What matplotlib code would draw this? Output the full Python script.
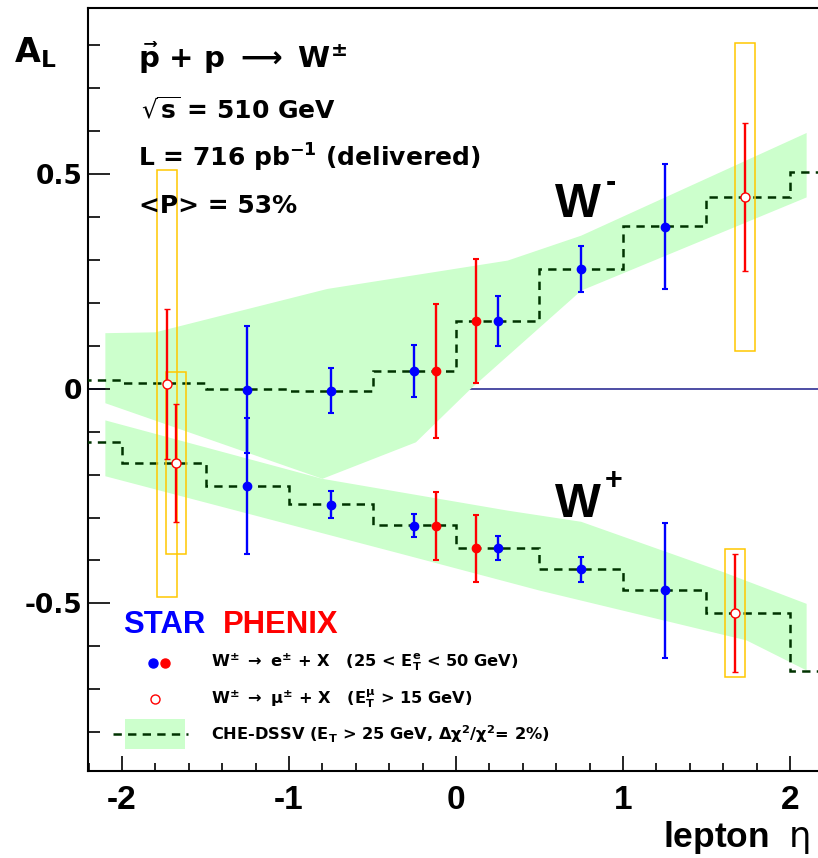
import numpy as np
import matplotlib
matplotlib.use('Agg')
import matplotlib.pyplot as plt
import matplotlib.transforms as mtransforms
from matplotlib.patches import Rectangle
from matplotlib.lines import Line2D
from matplotlib.ticker import MultipleLocator

plt.rcParams['font.family'] = ['DejaVu Sans']
plt.rcParams['mathtext.fontset'] = 'dejavusans'
plt.rcParams['mathtext.default'] = 'bf'
plt.rcParams['axes.unicode_minus'] = False
plt.rcParams['lines.scale_dashes'] = False

# ---------------- data ----------------
bin_edges = [-2.5, -2.0, -1.5, -1.0, -0.5, 0.0, 0.5, 1.0, 1.5, 2.0, 2.5]
theory_wm = [0.021, 0.012, -0.001, -0.005, 0.042, 0.157, 0.279, 0.378, 0.447, 0.503]
theory_wp = [-0.125, -0.173, -0.226, -0.268, -0.317, -0.371, -0.419, -0.468, -0.522, -0.657]

band_wm_up_eta = [-2.1, -1.8, -0.77, 0.31, 0.75, 2.1]
band_wm_up = [0.129, 0.131, 0.232, 0.298, 0.356, 0.595]
band_wm_lo_eta = [-2.1, -0.8, -0.24, 0.09, 0.75, 2.1]
band_wm_lo = [-0.034, -0.21, -0.125, 0.0, 0.228, 0.445]
band_wp_up_eta = [-2.1, -0.8, 0.31, 0.75, 1.6, 2.1]
band_wp_up = [-0.074, -0.21, -0.284, -0.31, -0.427, -0.501]
band_wp_lo_eta = [-2.1, -0.335, 0.5, 1.74, 2.1]
band_wp_lo = [-0.204, -0.384, -0.47, -0.586, -0.656]

star_eta = [-1.25, -0.75, -0.25, 0.25, 0.75, 1.25]
star_wm = [-0.003, -0.005, 0.041, 0.157, 0.278, 0.377]
star_wm_err = [0.148, 0.052, 0.060, 0.059, 0.053, 0.146]
star_wp = [-0.226, -0.270, -0.319, -0.371, -0.421, -0.469]
star_wp_err = [0.158, 0.031, 0.027, 0.027, 0.030, 0.157]

phe_e_eta = [-0.12, 0.12]
phe_e_wm = [0.041, 0.157]
phe_e_wm_err = [0.155, 0.145]
phe_e_wp = [-0.319, -0.372]
phe_e_wp_err = [0.079, 0.077]

phe_mu_wm_eta = [-1.73, 1.73]
phe_mu_wm = [0.011, 0.446]
phe_mu_wm_err = [0.175, 0.173]
phe_mu_wm_sys = [0.497, 0.358]
phe_mu_wp_eta = [-1.675, 1.67]
phe_mu_wp = [-0.173, -0.522]
phe_mu_wp_err = [0.138, 0.137]
phe_mu_wp_sys = [0.211, 0.149]

xtick_vals = [-2, -1, 0, 1, 2]
xtick_labels = ['-2', '-1', '0', '1', '2']
ytick_vals = [-0.5, 0, 0.5]
ytick_labels = ['-0.5', '0', '0.5']

# ---------------- figure ----------------
W, H = 818, 858
fig = plt.figure(figsize=(W / 100, H / 100), dpi=100)
ax = fig.add_axes([88 / W, (H - 771) / H, 730 / W, (771 - 7.5) / H])


def fx(px):
    return px / W


def fy(py):
    return 1 - py / H


BAND = '#ccffcc'
DASH = '#003300'
BLUE = '#0000ff'
RED = '#ff0000'
GOLD = '#ffc800'
dash_style = (0, (6, 4.5))

ax.axhline(0, color='#1c1c8c', lw=1.1, zorder=0.5)

for ue, u, le, l in [(band_wm_up_eta, band_wm_up, band_wm_lo_eta, band_wm_lo),
                     (band_wp_up_eta, band_wp_up, band_wp_lo_eta, band_wp_lo)]:
    ax.fill(np.r_[ue, le[::-1]], np.r_[u, l[::-1]], color=BAND, lw=0, zorder=1)

for th in (theory_wm, theory_wp):
    ax.stairs(th, bin_edges, baseline=None, color=DASH, lw=1.8,
              ls=dash_style, zorder=3)

# systematic boxes for muons
for etas, vals, sys in [(phe_mu_wm_eta, phe_mu_wm, phe_mu_wm_sys),
                        (phe_mu_wp_eta, phe_mu_wp, phe_mu_wp_sys)]:
    for e, v, s in zip(etas, vals, sys):
        ax.add_patch(Rectangle((e - 0.06, v - s), 0.12, 2 * s, fill=False,
                               ec=GOLD, lw=1.1, zorder=4))

eb = dict(fmt='o', ms=6, elinewidth=1.7, capsize=2, capthick=1.5, zorder=6)
ax.errorbar(star_eta, star_wm, yerr=star_wm_err, color=BLUE, **eb)
ax.errorbar(star_eta, star_wp, yerr=star_wp_err, color=BLUE, **eb)
ax.errorbar(phe_e_eta, phe_e_wm, yerr=phe_e_wm_err, color=RED, **eb)
ax.errorbar(phe_e_eta, phe_e_wp, yerr=phe_e_wp_err, color=RED, **eb)
ebm = dict(fmt='o', ms=6.5, mfc='white', mec=RED, mew=1.0, ecolor=RED,
           elinewidth=1.7, capsize=2, capthick=1.5, zorder=6)
ax.errorbar(phe_mu_wm_eta, phe_mu_wm, yerr=phe_mu_wm_err, **ebm)
ax.errorbar(phe_mu_wp_eta, phe_mu_wp, yerr=phe_mu_wp_err, **ebm)

ax.set_xlim(-2.204, 2.168)
ax.set_ylim(-0.89, 0.887)

ax.set_xticks(xtick_vals)
ax.set_xticklabels(xtick_labels, fontfamily='Liberation Sans',
                   fontweight='bold', fontsize=24)
ax.set_yticks(ytick_vals)
ax.set_yticklabels(ytick_labels, fontweight='bold', fontsize=19)
shift = mtransforms.ScaledTranslation(0, 6 / 100, fig.dpi_scale_trans)
for lab in ax.get_yticklabels():
    lab.set_transform(lab.get_transform() + shift)
ax.xaxis.set_minor_locator(MultipleLocator(0.2))
ax.yaxis.set_minor_locator(MultipleLocator(0.1))
ax.tick_params(axis='x', which='major', direction='in', length=11, width=1.2,
               pad=10, top=False)
ax.tick_params(axis='x', which='minor', direction='in', length=5.5, width=1.2,
               top=False)
ax.tick_params(axis='y', which='major', direction='in', length=16, width=1.2,
               pad=4, right=False)
ax.tick_params(axis='y', which='minor', direction='in', length=8.5, width=1.2,
               right=False)
ax.spines['right'].set_visible(False)
for s in ('left', 'top', 'bottom'):
    ax.spines[s].set_linewidth(1.5)

# axis titles
fig.text(fx(14), fy(62), r'$A_{L}$', fontsize=24, va='baseline')
fig.text(fx(810), fy(847), r'lepton  $\mathrm{\eta}$', ha='right', va='baseline',
         fontfamily='Liberation Sans', fontweight='bold', fontsize=25.5)

# header text
fig.text(fx(138), fy(68), r'$\vec{p}$ + p $\longrightarrow$ W$^{\pm}$', fontsize=21,
         fontweight='bold', va='baseline')
fig.text(fx(141), fy(118), r'$\sqrt{s}$ = 510 GeV', fontsize=18,
         fontweight='bold', va='baseline')
fig.text(fx(138.5), fy(166.7), r'L = 716 pb$^{-1}$ (delivered)', fontsize=18,
         fontweight='bold', va='baseline')
fig.text(fx(139), fy(213.3), '<P> = 53%', fontsize=18, fontweight='bold',
         va='baseline')

bigW = dict(fontfamily='Liberation Sans', fontweight='bold', fontsize=35,
            va='baseline')
supW = dict(fontfamily='Liberation Sans', fontweight='bold', fontsize=22,
            va='center')
fig.text(fx(555), fy(216.7), 'W', **bigW)
fig.text(fx(606), fy(183), '-', **supW)
fig.text(fx(555), fy(516.7), 'W', **bigW)
fig.text(fx(605), fy(481), '+', **supW)

# legend
fig.text(fx(122.7), fy(633.3), 'STAR', color=BLUE, fontfamily='Liberation Sans',
         fontweight='bold', fontsize=22.3, va='baseline')
fig.text(fx(223.3), fy(633.3), 'PHENIX', color=RED, fontfamily='Liberation Sans',
         fontweight='bold', fontsize=22.3, va='baseline')

fig.add_artist(Line2D([fx(153.3)], [fy(662.7)], marker='o', ms=6.5, color=BLUE,
                      transform=fig.transFigure))
fig.add_artist(Line2D([fx(165)], [fy(662.7)], marker='o', ms=6.5, color=RED,
                      transform=fig.transFigure))
fig.add_artist(Line2D([fx(155)], [fy(699.3)], marker='o', ms=6.5, mfc='white',
                      mec=RED, mew=1.0, transform=fig.transFigure))
fig.add_artist(Rectangle((fx(125), fy(749.3)), 60 / W, 30 / H, color=BAND,
                         lw=0, transform=fig.transFigure))
fig.add_artist(Line2D([fx(113), fx(188)], [fy(734.3), fy(734.3)], color=DASH,
                      lw=1.8, ls=dash_style, transform=fig.transFigure))

lg = dict(fontsize=11.7, fontweight='bold', va='baseline')
fig.text(fx(210.7), fy(666.7),
         r'W$^{\pm}$ $\rightarrow$ e$^{\pm}$ + X   (25 < $E_{T}^{e}$ < 50 GeV)', **lg)
fig.text(fx(210.7), fy(703.3),
         r'W$^{\pm}$ $\rightarrow$ $\mu^{\pm}$ + X   ($E_{T}^{\mu}$ > 15 GeV)', **lg)
fig.text(fx(210.7), fy(740),
         r'CHE-DSSV ($E_{T}$ > 25 GeV, $\Delta\chi^{2}/\chi^{2}$= 2%)', **lg)

fig.savefig('out.png', dpi=100)
